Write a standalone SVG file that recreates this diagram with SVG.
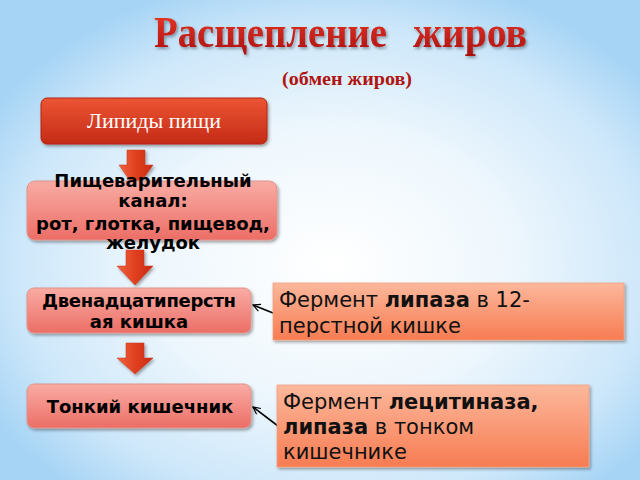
<svg xmlns="http://www.w3.org/2000/svg" width="640" height="480" viewBox="0 0 640 480">
<defs>
<radialGradient id="bg" cx="52%" cy="55%" r="62%">
<stop offset="0" stop-color="#ffffff"/>
<stop offset="0.45" stop-color="#eef7fd"/>
<stop offset="0.8" stop-color="#cde7fa"/>
<stop offset="1" stop-color="#a6d4f5"/>
</radialGradient>
<linearGradient id="gTitle" x1="0" y1="0" x2="0" y2="1">
<stop offset="0" stop-color="#ef3a2a"/>
<stop offset="1" stop-color="#a80f0f"/>
</linearGradient>
<linearGradient id="gDark" x1="0" y1="0" x2="0" y2="1">
<stop offset="0" stop-color="#ec5534"/>
<stop offset="1" stop-color="#c42a16"/>
</linearGradient>
<linearGradient id="gPink" x1="0" y1="0" x2="0" y2="1">
<stop offset="0" stop-color="#f9aca4"/>
<stop offset="1" stop-color="#ec6e66"/>
</linearGradient>
<linearGradient id="gOrange" x1="0" y1="0" x2="0" y2="1">
<stop offset="0" stop-color="#fcb89c"/>
<stop offset="1" stop-color="#f77c52"/>
</linearGradient>
<linearGradient id="gArrow" x1="0" y1="0" x2="1" y2="0">
<stop offset="0" stop-color="#f2623f"/>
<stop offset="0.5" stop-color="#e0401f"/>
<stop offset="1" stop-color="#c92a12"/>
</linearGradient>
<filter id="sh" x="-10%" y="-20%" width="130%" height="150%">
<feDropShadow dx="1.5" dy="2" stdDeviation="1.5" flood-color="#000" flood-opacity="0.35"/>
</filter>
<marker id="open" viewBox="0 0 10 10" refX="9" refY="5" markerWidth="9" markerHeight="9" orient="auto" markerUnits="userSpaceOnUse">
<path d="M1,1 L9,5 L1,9" fill="none" stroke="#000" stroke-width="1.3"/>
</marker>
<style>
.title{font-family:"Liberation Serif",serif;font-weight:bold;fill:url(#gTitle)}
.sub{font-family:"Liberation Serif",serif;font-weight:bold;font-size:19px;fill:#b01512}
.dark{fill:url(#gDark);stroke:#b4260f;stroke-width:1}
.pink{fill:url(#gPink);stroke:#e0948c;stroke-width:1}
.orange{fill:url(#gOrange);stroke:#f2a080;stroke-width:0.8}
.arrow{fill:url(#gArrow);stroke:#c8361a;stroke-width:0.5}
.wt{font-family:"Liberation Serif",serif;font-size:22px;fill:#ffffff}
.bt{font-family:"DejaVu Sans",sans-serif;font-weight:bold;font-size:18px;fill:#000;text-anchor:middle}
.rt{font-family:"DejaVu Sans",sans-serif;font-size:21px;fill:#111}
.b{font-weight:bold}
.conn{stroke:#000;stroke-width:1.6;fill:none}
</style>
</defs>
<rect x="0" y="0" width="640" height="480" fill="url(#bg)"/>
<g id="title" filter="url(#sh)">
<text class="title" x="154" y="47" font-size="44" textLength="233" lengthAdjust="spacingAndGlyphs">Расщепление</text>
<text class="title" x="413" y="47" font-size="44" textLength="114" lengthAdjust="spacingAndGlyphs">жиров</text>
</g>
<g id="subtitle">
<text class="sub" x="282" y="85" textLength="130" lengthAdjust="spacingAndGlyphs">(обмен жиров)</text>
</g>
<g id="connectors">
<path class="arrow" filter="url(#sh)" d="M127,150 H145 V165 H153 L136,189 L119,165 H127 Z"/>
<path class="arrow" filter="url(#sh)" d="M126,250 H144 V266 H153 L135,285 L117,266 H126 Z"/>
<path class="arrow" filter="url(#sh)" d="M126,343 H144 V358 H153 L135,374 L117,358 H126 Z"/>
<line class="conn" x1="273" y1="313" x2="253" y2="305" marker-end="url(#open)"/>
<line class="conn" x1="278" y1="426" x2="253" y2="407" marker-end="url(#open)"/>
</g>
<g id="node-lipidy">
<rect class="dark" filter="url(#sh)" x="41" y="98" width="226" height="46" rx="6"/>
<text class="wt" x="154" y="128" text-anchor="middle">Липиды пищи</text>
</g>
<g id="node-kanal">
<rect class="pink" filter="url(#sh)" x="27" y="181" width="250" height="59" rx="8"/>
<text class="bt" x="153" y="187">Пищеварительный</text>
<text class="bt" x="153" y="207">канал:</text>
<text class="bt" x="153" y="230">рот, глотка, пищевод,</text>
<text class="bt" x="153" y="249">желудок</text>
</g>
<g id="node-duodenum">
<rect class="pink" filter="url(#sh)" x="27" y="288" width="224" height="45" rx="7"/>
<text class="bt" x="139" y="307" textLength="194" lengthAdjust="spacing">Двенадцатиперстн</text>
<text class="bt" x="139" y="328">ая кишка</text>
</g>
<g id="node-tonkiy">
<rect class="pink" filter="url(#sh)" x="27" y="384" width="224" height="44" rx="7"/>
<text class="bt" x="140" y="413">Тонкий кишечник</text>
</g>
<g id="node-lipaza">
<rect class="orange" filter="url(#sh)" x="273" y="283" width="351" height="57"/>
<text class="rt" x="279" y="307">Фермент <tspan class="b">липаза</tspan> в 12-</text>
<text class="rt" x="279" y="333">перстной кишке</text>
</g>
<g id="node-lecitinaza">
<rect class="orange" filter="url(#sh)" x="277" y="385" width="312" height="82"/>
<text class="rt" x="283" y="409">Фермент <tspan class="b">лецитиназа,</tspan></text>
<text class="rt" x="283" y="434"><tspan class="b">липаза</tspan> в тонком</text>
<text class="rt" x="283" y="459">кишечнике</text>
</g>
</svg>
